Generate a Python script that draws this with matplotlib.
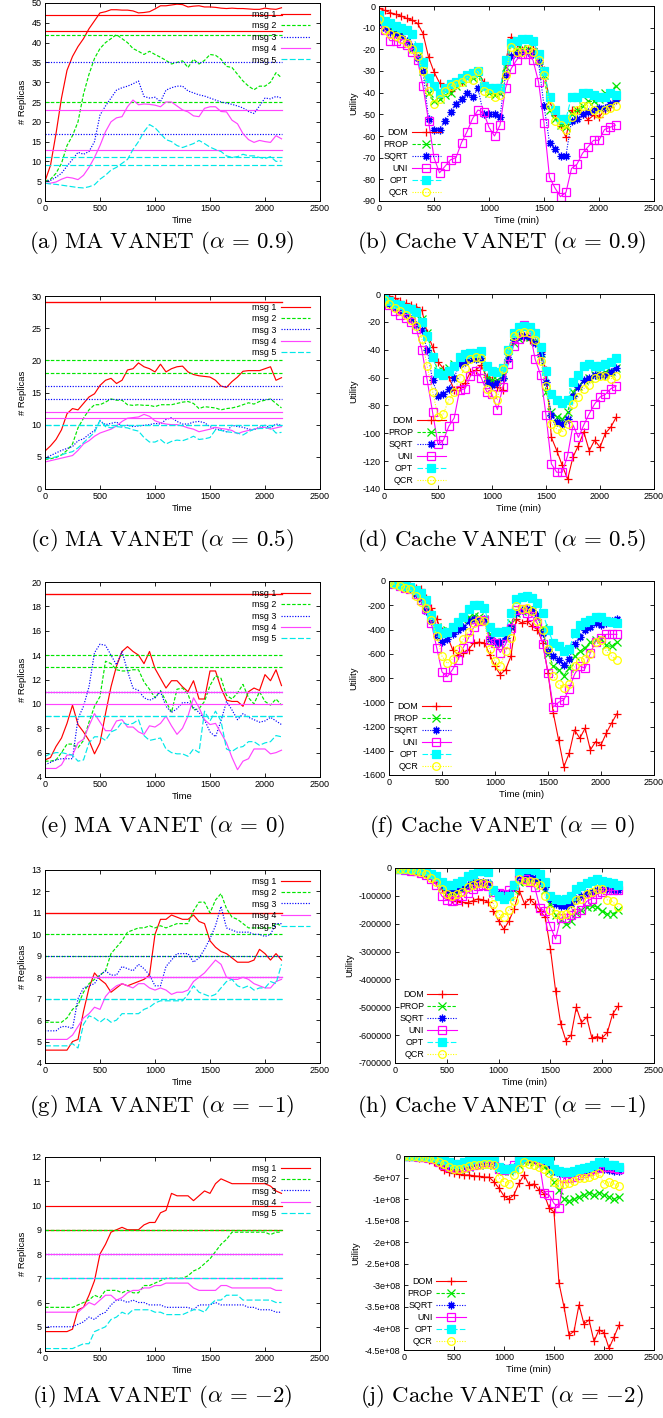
import matplotlib
matplotlib.use('Agg')
import matplotlib.pyplot as plt
import numpy as np
from matplotlib.ticker import FuncFormatter, MultipleLocator

plt.rcParams['font.family'] = ['Liberation Sans', 'DejaVu Sans']
plt.rcParams['mathtext.fontset'] = 'cm'
plt.rcParams['axes.unicode_minus'] = False

W, H = 663, 1418

# sampling times (same grid for every curve)
t = list(range(0, 2200, 50))

msg_labels = ['msg 1', 'msg 2', 'msg 3', 'msg 4', 'msg 5']
alg_labels = ['DOM', 'PROP', 'SQRT', 'UNI', 'OPT', 'QCR']
alphas = ['0.9', '0.5', '0', '-1', '-2']

# ---- MA VANET, alpha = 0.9 ----
a_msg1 = [5, 9, 17, 26, 33, 36.5, 39, 41, 43.5, 45.5, 47.5, 47.8, 48.3, 48.3, 48.2, 48.2, 48, 47.5, 47.6, 47.8, 48.5, 49.3,
          49.3, 49.5, 49.7, 49.6, 49, 49.2, 49.3, 49, 49, 48.9, 48.7, 48.6, 48.7, 48.6, 48.6, 48.5, 48.4, 48.4, 48.7, 48.5, 48.4, 48.8]
a_msg2 = [5, 5.5, 7, 9.5, 14, 16.5, 20, 27, 32, 36, 38.5, 40, 41, 42, 41, 40, 38.5, 37.8, 37, 37.8, 37, 36.3,
          35.5, 34.6, 35, 35.4, 33.7, 35.8, 34.6, 35.5, 37, 36.8, 35.8, 34, 33.7, 32, 30.3, 29, 28.1, 29, 29, 30, 32.4, 31.1]
a_msg3 = [5, 5.2, 6, 7, 8.8, 10.5, 12.3, 11.8, 12.5, 15, 21.7, 24, 26, 28, 28.6, 29, 29.6, 30.3, 26.4, 26, 26.2, 25.1,
          28, 28.6, 29, 29, 27.8, 27.3, 26.8, 26.5, 26, 25.5, 25, 24.7, 24.4, 24, 23.5, 22.6, 22.1, 24, 26, 25.8, 26.4, 26]
a_msg4 = [4.5, 4.5, 4.8, 5.5, 6, 5.8, 5.4, 6.5, 8.5, 11, 14, 17.5, 20, 21, 21.3, 23.8, 25.5, 24.3, 24.5, 24.4, 24.2, 23.8,
          25, 25, 24, 23, 22.5, 21.5, 21.3, 23.4, 23.8, 23.8, 22.6, 22.5, 20.4, 19.5, 17, 15.5, 14.8, 15.3, 15, 14.8, 16.5, 15.7]
a_msg5 = [4.5, 4.3, 4.2, 4.0, 3.8, 3.6, 3.4, 3.3, 3.6, 4.1, 5.5, 6.5, 7.8, 8.5, 9.5, 10.5, 13, 15, 17.5, 19.3, 18.5, 17,
          15.5, 15, 14, 13.5, 14, 14.5, 15.3, 14.5, 13.6, 13, 12.5, 11.4, 11, 11.2, 11.8, 11.4, 11.4, 11, 10.7, 11.2, 10, 10.1]
a_ref = [[47, 43], [42, 25], [35, 17], [23, 13], [11, 9]]

# ---- MA VANET, alpha = 0.5 ----
c_msg1 = [5.9, 6.7, 7.7, 9.2, 11.7, 12.5, 12.3, 13.3, 14.3, 14.8, 16.1, 16.9, 17.2, 16.4, 16.9, 18.5, 18.7, 19.6, 19, 18.7, 18.2, 19.4,
          18.2, 18.7, 19, 19.1, 18.2, 17.8, 17.6, 17.5, 17.4, 16.9, 16, 15.8, 16.7, 17.4, 18.3, 18.4, 18.4, 18.4, 18.7, 19, 16.9, 17.3]
c_msg2 = [4.6, 4.7, 4.9, 5.3, 6, 7, 9.5, 11, 12.3, 13.1, 13.1, 13.5, 14, 13.8, 13.8, 13.1, 13, 13.1, 13, 13, 12.8, 13.1,
          13.1, 13.1, 13.3, 13.5, 13.6, 13.3, 12.5, 12.8, 12.7, 12.6, 12.3, 12.5, 12.6, 12.8, 13.1, 13.4, 13.2, 13.6, 13.8, 14, 13.3, 12.6]
c_msg3 = [4.9, 5.2, 5.6, 6, 6.3, 6.6, 7.5, 7.8, 8.5, 9.1, 10.6, 10, 10.2, 10.4, 9.8, 9.9, 9.7, 9.8, 9.9, 10, 10.2, 10.1,
          10.8, 11.1, 10.5, 10.1, 10.1, 10.4, 10.5, 10.3, 9.7, 9.3, 9.2, 8.9, 9.9, 9.7, 9.6, 9.3, 9.2, 9.6, 9.9, 9.5, 10.1, 9.9]
c_msg4 = [4.2, 4.4, 4.6, 4.8, 5, 5.2, 6, 7, 7.5, 8.2, 8.7, 9, 9.3, 9.8, 10.5, 11, 11.1, 11.2, 11.6, 11.3, 10.6, 10.3,
          10.1, 10, 10, 9.8, 9.5, 9.3, 8.9, 9.1, 9.3, 9.6, 9.4, 9.3, 9.1, 8.6, 8.9, 9.1, 9.3, 9.5, 9.6, 9.3, 9.5, 9.7]
c_msg5 = [4.7, 4.8, 5, 5.3, 5.6, 5.8, 6.4, 7.2, 8, 8.8, 10.7, 9.7, 9.5, 9.7, 9.6, 9.5, 9.2, 9, 8, 7.3, 7.3, 7.7,
          7, 7.4, 7.6, 7.5, 7.8, 8.2, 7.7, 7.8, 8, 9.2, 9.1, 8.9, 8.8, 8.7, 8.4, 8.9, 9.3, 9.4, 9.4, 9.6, 8.7, 8.8]
c_ref = [[29, 29], [20, 18], [16, 14], [12, 11], [10, 10]]

# ---- MA VANET, alpha = 0 ----
e_msg1 = [5.4, 5.6, 6.5, 7.2, 8.4, 9.9, 8.3, 7.7, 7, 5.9, 6.8, 9.2, 11.4, 13.1, 14.3, 14.7, 14.3, 14, 13.3, 14.3, 12.9, 12.1,
          11.3, 11.9, 11.9, 11.4, 11, 11.9, 10.4, 10.4, 12.7, 12.7, 11.3, 10.3, 10.2, 10.2, 9.8, 11, 11.3, 11.1, 12.4, 11.9, 12.8, 11.5]
e_msg2 = [5.3, 5.3, 5.4, 6, 6.7, 6.7, 6.4, 7, 8.5, 9.8, 10.6, 13.5, 13.3, 12.8, 12.7, 12.7, 12.8, 12.8, 11.8, 11.2, 10.5, 11.1,
          10.2, 9.3, 11.2, 11.3, 10.8, 9.5, 9.6, 10.2, 11.5, 12.3, 12.1, 10.7, 10.4, 10.9, 11.6, 10.5, 10, 11, 10.2, 9.9, 10.4, 9.9]
e_msg3 = [5, 5.2, 5.4, 5.5, 5.5, 5.5, 8.8, 9.8, 11.4, 14.2, 14.9, 14.8, 14, 13.2, 14.3, 12.7, 11.3, 11.1, 10.5, 10.3, 10.5, 11,
          9.8, 9.3, 9.6, 10.1, 10.1, 9.7, 9.3, 8.7, 7.7, 7.3, 8.6, 10.2, 9.5, 8.7, 9.2, 8.9, 8.7, 8.5, 8.6, 8.9, 8.6, 8.3]
e_msg4 = [4.7, 4.7, 4.7, 5, 5.8, 5.8, 6.8, 7.1, 8.2, 9.2, 8.5, 7.8, 7.8, 8.6, 8.7, 8.1, 8.1, 7.7, 7.5, 8.2, 8.1, 8.4,
          9, 8.2, 7.5, 8, 9, 10.5, 9.7, 8.7, 8.3, 8.4, 7.6, 6.8, 5.6, 4.6, 5.3, 5.5, 6.3, 6.3, 6.3, 5.9, 6, 6.2]
e_msg5 = [5.7, 5.9, 6, 6, 5.9, 5.8, 5.3, 5.4, 6.8, 7.3, 7.3, 7, 7.7, 7.9, 8.5, 8.3, 8.4, 8.7, 7.4, 7, 7.1, 7.2,
          6.3, 6, 5.9, 5.9, 5.7, 6.3, 6, 9.4, 8.6, 9.4, 8.6, 6.3, 6.1, 6.4, 6.5, 6.9, 6.9, 6.6, 6.8, 6.9, 7.4, 7.3]
e_ref = [[19, 19], [14, 13], [11, 11], [11, 10], [9, 9]]

# ---- MA VANET, alpha = -1 ----
g_msg1 = [4.6, 4.6, 4.6, 4.6, 4.6, 5, 5.1, 6.4, 7.5, 8.2, 7.9, 7.7, 7.3, 7.5, 7.7, 7.6, 7.7, 7.8, 7.9, 8.1, 10, 10.7,
          10.7, 10.9, 10.8, 10.7, 10.7, 10.9, 10.6, 10.5, 9.7, 9.4, 9.2, 9.1, 8.9, 8.7, 8.7, 8.7, 8.8, 9.3, 9.1, 8.8, 9.1, 8.8]
g_msg2 = [5.9, 5.9, 5.9, 5.9, 6.1, 6.5, 6.7, 7.3, 7.7, 7.9, 8.1, 8.3, 9.1, 9.4, 9.7, 10.1, 10.2, 10.3, 10.3, 10.4, 10.3, 10.4,
          10.3, 10.4, 10.5, 10.5, 10.5, 11.1, 11.5, 11.5, 11, 11.6, 11.9, 11.2, 10.8, 10.7, 10.5, 10.3, 10.3, 10.3, 10.3, 10.3, 10.5, 10.4]
g_msg3 = [5.5, 5.5, 5.5, 5.7, 5.7, 5.6, 7, 7.5, 7.6, 7.7, 8.1, 8.3, 8.1, 8.1, 8.5, 8.4, 8.3, 8.6, 8.4, 8.1, 7.6, 7.6,
          8.5, 8.8, 9.1, 9.1, 9.1, 8.7, 8.9, 9.3, 9.8, 10.4, 11.3, 10.3, 10.2, 10.1, 10.1, 10.1, 10, 10, 9.9, 10, 10.5, 10.5]
g_msg4 = [5.1, 5.1, 5.1, 5.1, 5.1, 5.3, 5.7, 6.1, 6.3, 6.6, 6.5, 7.1, 7.4, 7.6, 7.7, 7.6, 7.5, 7.7, 7.7, 7.5, 7.4, 7.5,
          7.4, 7.2, 7.3, 7.3, 7.4, 7.8, 8, 8.2, 8.5, 8.8, 8.6, 8, 7.9, 7.9, 8, 7.9, 7.7, 7.6, 7.5, 7.5, 7.8, 7.9]
g_msg5 = [4.8, 4.8, 4.8, 4.8, 4.8, 4.9, 4.7, 5.8, 6.2, 6.1, 5.9, 6.1, 5.9, 6, 6.3, 6.3, 6.3, 6.3, 6.5, 6.6, 6.8, 6.9,
          6.9, 6.9, 6.9, 6.9, 7.2, 7.6, 7.3, 7.2, 7.1, 7.2, 7.5, 7.8, 7.9, 7.6, 7.5, 7.6, 7.4, 7.5, 7.5, 7.8, 7.7, 8.6]
g_ref = [[11, 11], [10, 9], [9, 8], [8, 8], [7, 7]]

# ---- MA VANET, alpha = -2 ----
i_msg1 = [4.8, 4.8, 4.8, 4.8, 4.8, 4.9, 5.7, 5.8, 6.3, 6.9, 8.0, 8.4, 8.9, 9, 9.1, 9, 9, 9, 9.2, 9.3, 9.3, 9.7,
          9.8, 10.5, 10.4, 10.4, 10.4, 10.2, 10.4, 10.6, 10.5, 10.9, 11.1, 11, 10.9, 10.9, 10.9, 10.9, 10.9, 10.9, 10.9, 10.8, 10.6, 10.5]
i_msg2 = [5.8, 5.8, 5.8, 5.8, 5.8, 5.8, 5.9, 6, 6.1, 6.3, 6.2, 6.5, 6.5, 6.5, 6.4, 6.5, 6.4, 6.4, 6.7, 6.7, 6.8, 6.9,
          7, 7, 7, 7, 7.1, 7.3, 7.4, 7.6, 7.8, 8.1, 8.4, 8.6, 8.9, 8.9, 8.9, 8.9, 8.9, 8.9, 8.9, 8.8, 8.9, 8.9]
i_msg3 = [5, 5, 5, 5, 5, 5, 5.1, 5.2, 5.4, 5.3, 5.5, 5.6, 5.9, 6.1, 6.1, 6, 6.1, 6, 6, 5.9, 5.9, 5.9,
          5.8, 5.8, 5.8, 5.8, 5.8, 5.7, 5.9, 5.9, 5.9, 6, 5.9, 5.9, 5.9, 5.9, 5.9, 5.8, 5.8, 5.7, 5.7, 5.7, 5.6, 5.6]
i_msg4 = [5.6, 5.6, 5.6, 5.6, 5.6, 5.6, 5.6, 5.8, 6, 5.9, 6.1, 6.3, 6.3, 6.1, 6.2, 6.4, 6.5, 6.5, 6.6, 6.6, 6.7, 6.7,
          6.8, 6.8, 6.8, 6.8, 6.8, 6.6, 6.5, 6.5, 6.5, 6.5, 6.7, 6.7, 6.6, 6.6, 6.6, 6.6, 6.6, 6.6, 6.6, 6.6, 6.5, 6.5]
i_msg5 = [4.1, 4.1, 4.1, 4.1, 4.1, 4.1, 4.2, 4.3, 4.3, 4.8, 4.9, 5, 5.3, 5.4, 5.6, 5.5, 5.7, 5.7, 5.7, 5.7, 5.6, 5.6,
          5.5, 5.5, 5.5, 5.5, 5.6, 5.7, 5.7, 5.6, 5.9, 6.1, 6.1, 6.3, 6.3, 6.3, 6.1, 6.1, 6.1, 6.1, 6.1, 6.1, 6, 6]
i_ref = [[10, 9], [9, 9], [8, 8], [8, 7], [7, 7]]

# ---- Cache VANET, alpha = 0.9 ----
b_dom = [-1, -2, -3, -3.8, -4.6, -5.7, -6.5, -8, -12.7, -23.5, -30.4, -35.5, -38, -39, -36.6, -35, -32, -31.2, -30.4, -35, -38, -39.7,
         -39, -25.8, -14.5, -17.3, -20.4, -20.4, -19.6, -23.5, -29.7, -43.6, -50.5, -55.2, -60.6, -48.2, -48.2, -49.8, -52.5, -50.5, -51.3, -48.2, -46.7, -43.6]
b_prop = [-5, -8, -10, -12, -13, -16, -20, -23, -30, -40, -44, -43, -41, -40, -37, -35, -33, -33, -32, -38, -40, -41,
          -40, -28, -18, -20, -20, -20, -21, -25, -32, -48, -52, -55, -56, -50, -48, -46, -44, -44, -43, -40, -40, -37]
b_sqrt = [-8, -10, -12, -13, -14, -16, -19, -24, -30, -52, -57, -57, -53, -49, -45, -43, -40, -42, -38, -50, -50, -50,
          -51, -32, -23, -22, -21, -21, -22, -26, -46, -63, -66, -69, -69, -53, -52, -50, -49, -48, -47, -47, -45, -43]
b_uni = [-6, -11, -16, -16, -17, -18, -21, -25, -37, -53, -70, -77, -74, -71, -70, -63, -58, -52, -48, -49, -56, -60,
         -55, -38, -29, -25, -22, -22, -25, -35, -54, -79, -84, -88, -86, -75, -73, -68, -65, -62, -62, -57, -56, -55]
b_opt = [-4, -7, -8, -9, -10, -11, -13, -19, -26, -33, -37, -40, -38, -36, -35, -33, -32, -31, -30, -37, -38, -38,
         -38, -25, -17, -16, -15, -15, -16, -22, -30, -42, -48, -52, -52, -42, -42, -40, -40, -41, -42, -42, -40, -41]
b_qcr = [-6, -11, -13, -14, -15, -17, -20, -23, -30, -39, -45, -43, -39, -37, -36, -35, -33, -34, -30, -39, -40, -42,
         -41, -32, -19, -21, -21, -20, -21, -25, -32, -46, -53, -55, -57, -51, -48, -46, -46, -48, -50, -48, -47, -46]

# ---- Cache VANET, alpha = 0.5 ----
d_dom = [0, -1.5, -3, -5, -6.7, -8, -9, -11.5, -28, -38, -48.7, -53.5, -59.5, -69, -66.8, -64, -56, -54.8, -51, -59.5, -62, -66.8,
         -69, -47.5, -32, -29.5, -30.7, -33, -34.3, -41.5, -54.8, -103, -112.5, -123, -133, -117, -108.8, -99, -112.5, -105, -110, -100, -95.6, -88.4]
d_prop = [-4, -6, -8, -10, -12, -13, -15, -18, -28, -45, -55, -55, -53, -50, -48, -46, -45, -45, -46, -60, -62, -62,
          -58, -45, -35, -32, -30, -31, -34, -42, -70, -85, -88, -90, -85, -70, -66, -62, -60, -58, -58, -56, -55, -53]
d_sqrt = [-5, -7, -10, -12, -14, -18, -22, -26, -40, -62, -73, -72, -68, -60, -50, -49, -47, -47, -46, -63, -65, -64,
          -60, -47, -33, -30, -30, -31, -35, -43, -63, -87, -92, -93, -90, -73, -67, -62, -60, -58, -58, -58, -56, -53]
d_uni = [-3, -8, -12, -15, -17, -20, -25, -40, -62, -85, -108, -105, -95, -89, -69, -68, -59, -55, -60, -70, -72, -83,
         -67, -50, -37, -32, -22, -27, -47, -58, -87, -122, -128, -128, -116, -94, -103, -94, -86, -79, -74, -72, -68, -66]
d_opt = [-3, -5, -7, -8, -10, -11, -13, -20, -30, -45, -57, -58, -55, -52, -45, -43, -42, -42, -41, -52, -55, -56,
         -53, -40, -28, -24, -23, -24, -28, -38, -55, -72, -76, -78, -76, -63, -58, -52, -50, -52, -52, -50, -49, -46]
d_qcr = [-4, -7, -10, -12, -15, -19, -23, -32, -52, -70, -88, -86, -76, -70, -60, -53, -47, -45, -46, -68, -72, -76,
         -54, -41, -30, -28, -27, -28, -33, -48, -66, -93, -97, -99, -93, -79, -74, -68, -65, -60, -59, -59, -61, -59]

# ---- Cache VANET, alpha = 0 ----
f_dom = [0, -15, -28, -35, -41, -55, -69, -140, -220, -317, -414, -455, -565, -607, -593, -565, -510, -505, -510, -607, -703, -772,
         -731, -620, -317, -345, -331, -372, -400, -510, -758, -1090, -1310, -1531, -1420, -1228, -1297, -1214, -1393, -1324, -1352, -1255, -1172, -1095]
f_prop = [-10, -25, -40, -50, -60, -90, -120, -200, -280, -380, -410, -400, -380, -350, -320, -300, -290, -300, -310, -440, -500, -520,
          -470, -350, -260, -250, -240, -250, -300, -390, -600, -700, -730, -780, -720, -620, -580, -550, -500, -490, -480, -530, -540, -500]
f_sqrt = [-10, -25, -40, -55, -70, -110, -150, -250, -330, -450, -500, -480, -440, -400, -380, -330, -310, -320, -310, -480, -500, -500,
          -470, -380, -260, -240, -230, -240, -280, -430, -580, -620, -650, -690, -640, -520, -460, -400, -380, -350, -360, -350, -330, -310]
f_uni = [-10, -25, -40, -55, -70, -110, -160, -230, -350, -550, -750, -790, -730, -650, -550, -470, -380, -330, -320, -490, -510, -590,
         -520, -390, -240, -230, -260, -290, -350, -520, -760, -1040, -1000, -980, -890, -770, -700, -720, -590, -500, -470, -440, -440, -440]
f_opt = [-10, -20, -30, -40, -50, -75, -100, -160, -280, -390, -430, -420, -380, -340, -300, -230, -200, -200, -220, -380, -420, -420,
         -410, -260, -150, -130, -120, -140, -180, -260, -400, -510, -540, -580, -560, -430, -360, -340, -320, -300, -300, -330, -340, -350]
f_qcr = [-10, -25, -40, -55, -70, -120, -170, -220, -320, -450, -620, -680, -640, -560, -480, -420, -350, -320, -330, -560, -660, -700,
         -580, -470, -210, -230, -220, -250, -330, -400, -560, -780, -850, -880, -850, -700, -660, -640, -600, -500, -490, -580, -620, -650]

# ---- Cache VANET, alpha = -1 ----
h_dom = [0, -3000, -6000, -8000, -10000, -15000, -20000, -35000, -50000, -75000, -99000, -111000, -117000, -123000, -125000,
         -118000, -111000, -114000, -123000, -153000, -190000, -220000, -190000, -147000, -81000, -129000, -111000, -129000,
         -153000, -177000, -290000, -440000, -560000, -620000, -600000, -500000, -555000, -535000, -610000, -605000, -610000,
         -590000, -525000, -497000]
h_prop = [-3000, -4000, -5000, -7000, -10000, -15000, -20000, -30000, -40000, -70000, -90000, -95000, -90000, -80000, -70000,
          -60000, -55000, -55000, -60000, -90000, -100000, -110000, -100000, -80000, -50000, -45000, -45000, -50000, -60000,
          -80000, -130000, -170000, -185000, -200000, -190000, -160000, -150000, -140000, -135000, -140000, -155000, -165000,
          -165000, -150000]
h_sqrt = [-2000, -3000, -4000, -6000, -8000, -11000, -15000, -25000, -35000, -60000, -80000, -85000, -80000, -70000, -60000,
          -55000, -50000, -50000, -55000, -80000, -90000, -95000, -90000, -70000, -40000, -30000, -30000, -35000, -45000,
          -70000, -110000, -130000, -135000, -135000, -130000, -110000, -100000, -90000, -85000, -80000, -75000, -75000,
          -78000, -80000]
h_uni = [-3000, -5000, -8000, -10000, -12000, -18000, -25000, -40000, -60000, -100000, -115000, -120000, -115000, -100000,
         -90000, -75000, -65000, -60000, -65000, -85000, -90000, -95000, -80000, -60000, -40000, -40000, -50000, -70000,
         -145000, -155000, -210000, -255000, -180000, -180000, -170000, -160000, -150000, -120000, -110000, -95000, -85000,
         -80000, -80000, -80000]
h_opt = [0, -2000, -3000, -4000, -5000, -7000, -10000, -20000, -30000, -50000, -60000, -60000, -55000, -45000, -30000,
         -20000, -10000, -10000, -15000, -80000, -100000, -110000, -100000, -60000, -10000, -5000, -5000, -8000, -20000,
         -50000, -100000, -110000, -115000, -110000, -100000, -75000, -65000, -55000, -45000, -40000, -45000, -50000,
         -55000, -60000]
h_qcr = [-3000, -4000, -5000, -7000, -10000, -15000, -20000, -35000, -50000, -75000, -95000, -100000, -95000, -85000, -70000,
         -60000, -55000, -55000, -60000, -130000, -165000, -175000, -150000, -120000, -40000, -45000, -45000, -50000, -60000,
         -100000, -150000, -165000, -170000, -165000, -150000, -115000, -110000, -95000, -85000, -75000, -75000, -115000,
         -120000, -140000]

# ---- Cache VANET, alpha = -2 ----
j_dom = [0, -2e6, -3e6, -4e6, -5.4e6, -9e6, -1.3e7, -2.2e7, -3.2e7, -3.7e7, -3.9e7, -4.2e7, -4.4e7, -4.4e7, -4.6e7, -4.7e7,
         -4.9e7, -4.9e7, -6e7, -7.5e7, -9.3e7, -1e8, -9e7, -6.3e7, -4.4e7, -6.7e7, -6.5e7, -7.9e7, -8.7e7, -1.2e8, -1.3e8,
         -2.95e8, -3.5e8, -4.15e8, -4.07e8, -3.45e8, -3.9e8, -3.8e8, -4.3e8, -4.03e8, -4.1e8, -4.46e8, -4.2e8, -3.92e8]
j_prop = [0, -5e5, -1e6, -2e6, -3e6, -5e6, -8e6, -1.4e7, -2e7, -2.5e7, -3e7, -3e7, -2.8e7, -2.5e7, -2.2e7, -2e7, -1.8e7,
          -1.8e7, -2e7, -3e7, -3.5e7, -3.5e7, -3e7, -2e7, -1.2e7, -1.2e7, -1.5e7, -2e7, -2.5e7, -3.5e7, -6e7, -8e7, -1e8,
          -1.05e8, -1e8, -9.5e7, -9e7, -8.5e7, -9e7, -8.5e7, -9e7, -9.5e7, -1e8, -9.5e7]
j_sqrt = [0, -5e5, -1e6, -1.5e6, -2e6, -3e6, -5e6, -1e7, -1.5e7, -2e7, -2.2e7, -2.2e7, -2e7, -1.7e7, -1.5e7, -1.2e7, -1e7,
          -1e7, -1.2e7, -2.5e7, -2.8e7, -2.8e7, -2.5e7, -1.5e7, -8e6, -6e6, -6e6, -8e6, -1.2e7, -2e7, -3.5e7, -4e7, -4.2e7,
          -4.2e7, -4e7, -3.5e7, -3.5e7, -3.3e7, -3e7, -2.8e7, -3e7, -3.2e7, -3.5e7, -3.5e7]
j_uni = [0, -5e5, -1e6, -2e6, -3e6, -5e6, -8e6, -1.4e7, -2e7, -2.5e7, -2.8e7, -2.8e7, -2.6e7, -2.3e7, -2e7, -1.8e7, -1.5e7,
         -1.5e7, -1.8e7, -3e7, -3.2e7, -3e7, -2e7, -1e7, -3e6, 0, 0, -1e7, -8.5e7, -9e7, -1.1e8, -1.2e8, -5e7, -5e7, -4.8e7,
         -4.5e7, -4e7, -3.5e7, -3e7, -2.8e7, -2.5e7, -2.5e7, -2.8e7, -3e7]
j_opt = [0, 0, 0, -5e5, -1e6, -2e6, -3e6, -6e6, -1e7, -1.5e7, -1.8e7, -1.8e7, -1.5e7, -1.2e7, -8e6, -5e6, -2e6, -2e6, -3e6,
         -2.5e7, -3e7, -3e7, -2.8e7, -1e7, -2e6, 0, 0, -2e6, -6e6, -1.2e7, -3e7, -3.5e7, -3.8e7, -3.8e7, -3.5e7, -3e7, -2.8e7,
         -2.5e7, -2e7, -1.5e7, -1.5e7, -2e7, -2.2e7, -2.5e7]
j_qcr = [0, -5e5, -1e6, -2e6, -3e6, -5e6, -8e6, -1.3e7, -1.8e7, -2.5e7, -3e7, -3e7, -2.8e7, -2.4e7, -2.2e7, -2e7, -1.8e7,
         -1.8e7, -2e7, -5e7, -6e7, -6.5e7, -4.5e7, -3e7, -1.5e7, -1.8e7, -2e7, -2.5e7, -3e7, -4e7, -6e7, -6.5e7, -6.5e7,
         -6.2e7, -5.8e7, -5e7, -5e7, -4.8e7, -4.5e7, -4e7, -6.5e7, -6e7, -6.5e7, -7e7]

msg_colors = ['#ff0000', '#00e600', '#0000ff', '#ff44ff', '#00e8e8']
msg_styles = ['-', (0, (3, 1.5)), (0, (1, 1.3)), '-', (0, (5, 2))]
alg_colors = ['#ff0000', '#00e600', '#0000ff', '#ff00ff', '#00ffff', '#ffff00']
alg_styles = ['-', (0, (3, 1.5)), (0, (1, 1.3)), '-', (0, (5, 2)), (0, (1, 1.3))]
alg_markers = ['+', 'x', (8, 2, 0), 's', 's', 'o']

fig = plt.figure(figsize=(W / 100, H / 100), dpi=100)


def box(l, top, r, b):
    return fig.add_axes([l / W, 1 - b / H, (r - l) / W, (b - top) / H])


def style_axes(ax, ylim, ystep, xlabel, ylabel):
    ax.set_xlim(0, 2500)
    ax.set_ylim(*ylim)
    ax.xaxis.set_major_locator(MultipleLocator(500))
    ax.yaxis.set_major_locator(MultipleLocator(ystep))
    ax.yaxis.set_major_formatter(FuncFormatter(lambda v, p: '%g' % v))
    ax.tick_params(direction='in', top=True, right=True, length=3, width=0.6, labelsize=6.5, pad=2.5)
    for s in ax.spines.values():
        s.set_linewidth(0.7)
    ax.set_xlabel(xlabel, fontsize=6.8, labelpad=2)
    ax.set_ylabel(ylabel, fontsize=6.8, labelpad=3)


def ma_panel(ax, series, refs, ylim, ystep):
    for y, ref, c, ls, lab in zip(series, refs, msg_colors, msg_styles, msg_labels):
        ax.plot(t[:len(y)], y, color=c, ls=ls, lw=0.85, label=lab)
        for v in ref:
            ax.plot([t[0], t[-1]], [v, v], color=c, ls=ls, lw=0.85)
    style_axes(ax, ylim, ystep, 'Time', '# Replicas')
    ax.legend(loc='upper right', bbox_to_anchor=(0.965, 0.965), frameon=False, markerfirst=False,
              fontsize=6.4, handlelength=3.3, handletextpad=0.5, labelspacing=0.27,
              borderpad=0, borderaxespad=0)


def cache_panel(ax, series, ylim, ystep):
    for y, c, ls, m, lab in zip(series, alg_colors, alg_styles, alg_markers, alg_labels):
        fill = 'none' if lab in ('UNI', 'QCR') else c
        ax.plot(t[:len(y)], y, color=c, ls=ls, lw=0.8, marker=m, ms=5.5, mew=0.9, mfc=fill, label=lab)
    style_axes(ax, ylim, ystep, 'Time (min)', 'Utility')
    ax.legend(loc='lower left', bbox_to_anchor=(0.015, 0.02), frameon=False, markerfirst=False,
              fontsize=6.4, handlelength=3.3, handletextpad=0.4, labelspacing=0.33,
              borderpad=0, borderaxespad=0)


ma_panel(box(45, 3, 320, 201), [a_msg1, a_msg2, a_msg3, a_msg4, a_msg5], a_ref, (0, 50), 5)
cache_panel(box(379, 6, 654, 201), [b_dom, b_prop, b_sqrt, b_uni, b_opt, b_qcr], (-90, 0), 10)
ma_panel(box(45, 296, 320, 489), [c_msg1, c_msg2, c_msg3, c_msg4, c_msg5], c_ref, (0, 30), 5)
cache_panel(box(384, 294, 654, 489), [d_dom, d_prop, d_sqrt, d_uni, d_opt, d_qcr], (-140, 0), 20)
ma_panel(box(45, 582, 320, 777), [e_msg1, e_msg2, e_msg3, e_msg4, e_msg5], e_ref, (4, 20), 2)
cache_panel(box(389, 581, 654, 775), [f_dom, f_prop, f_sqrt, f_uni, f_opt, f_qcr], (-1600, 0), 200)
ma_panel(box(45, 870, 320, 1063), [g_msg1, g_msg2, g_msg3, g_msg4, g_msg5], g_ref, (4, 13), 1)
cache_panel(box(395, 868, 654, 1063), [h_dom, h_prop, h_sqrt, h_uni, h_opt, h_qcr], (-700000, 0), 100000)
ma_panel(box(45, 1157, 320, 1351), [i_msg1, i_msg2, i_msg3, i_msg4, i_msg5], i_ref, (4, 12), 1)
cache_panel(box(404, 1156, 654, 1350), [j_dom, j_prop, j_sqrt, j_uni, j_opt, j_qcr], (-4.5e8, 0), 5e7)

caption_y = [243, 540, 826, 1107, 1397]
letters = ['ab', 'cd', 'ef', 'gh', 'ij']
for yc, lt, al in zip(caption_y, letters, alphas):
    fig.text(162 / W, 1 - yc / H, r'$\mathrm{(%s)\ MA\ VANET}\ (\alpha\,=\,{%s})$' % (lt[0], al),
             ha='center', va='center', fontsize=16.5)
    fig.text(502 / W, 1 - yc / H, r'$\mathrm{(%s)\ Cache\ VANET}\ (\alpha\,=\,{%s})$' % (lt[1], al),
             ha='center', va='center', fontsize=16.5)

fig.savefig('out.png', dpi=100)
